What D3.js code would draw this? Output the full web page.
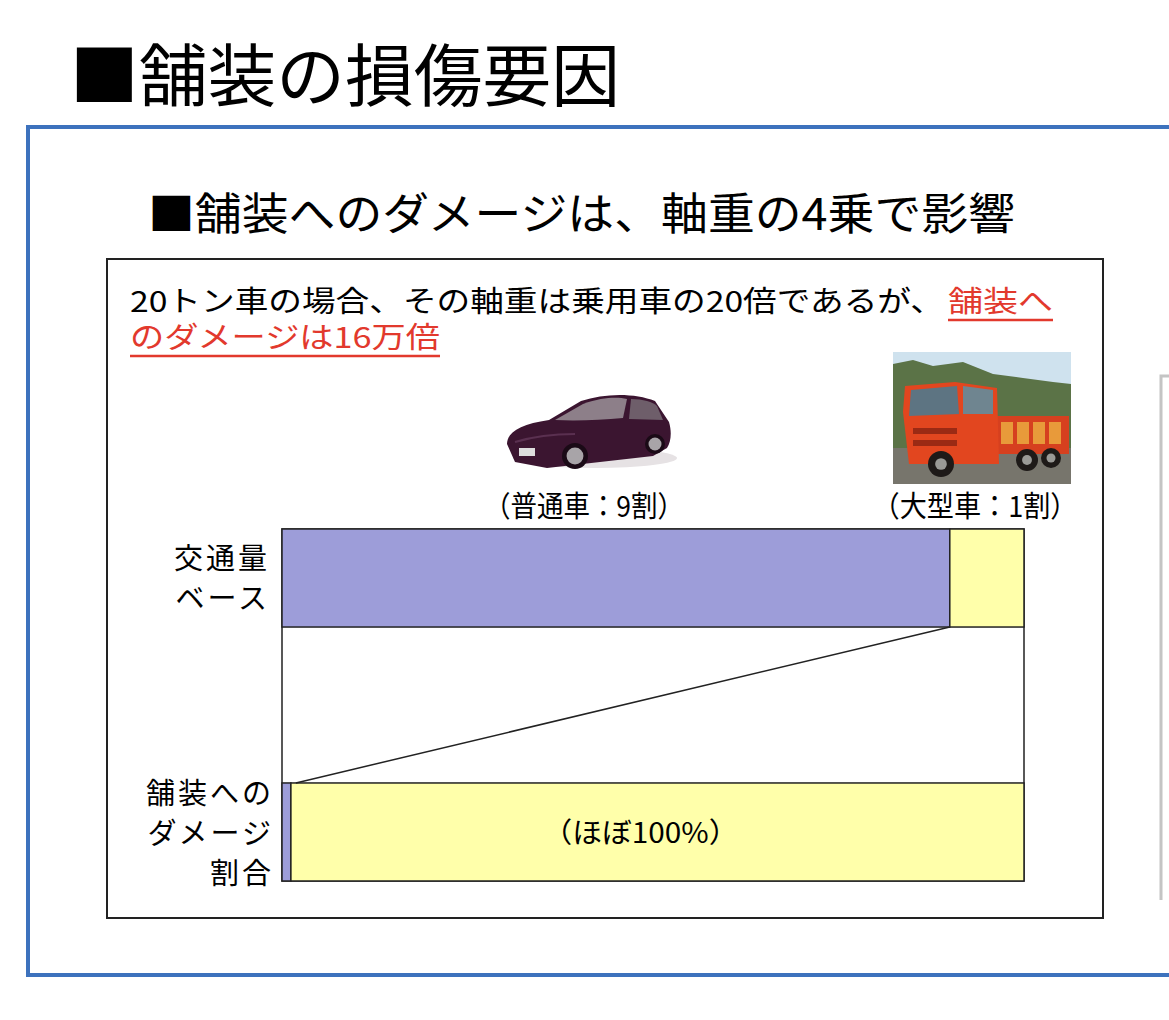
<!DOCTYPE html>
<html>
<head>
<meta charset="utf-8">
<script src="https://cdn.jsdelivr.net/npm/d3@7"></script>
<style>
  html, body { margin: 0; padding: 0; background: #fff; }
  svg { display: block; font-family: "Noto Sans CJK JP", "Noto Sans", sans-serif; }
</style>
</head>
<body>
<svg id="chart" width="1169" height="1020"></svg>
<script>
// data
const rows = ['traffic', 'damage']
const rowLabels = [['交通量', 'ベース'], ['舗装への', 'ダメージ', '割合']]
const categories = ['普通車', '大型車']
const trafficShare = [90, 10]
const damageShare = [1.2, 98.8]
const vehicleLabels = ['（普通車：9割）', '（大型車：1割）']
const damageNote = '（ほぼ100%）'
const title = '■舗装の損傷要因'
const subtitle = '■舗装へのダメージは、軸重の4乗で影響'
const leadBlack = '20トン車の場合、その軸重は乗用車の20倍であるが、'
const leadRed1 = '舗装へ'
const leadRed2 = 'のダメージは16万倍'

const colors = { 普通車: '#9d9dd9', 大型車: '#ffffaa' }

const svg = d3.select('#chart')

// outer blue frame (runs off the right edge)
svg.append('path')
  .attr('d', 'M1175,127 L28,127 L28,975 L1175,975')
  .attr('fill', 'none')
  .attr('stroke', '#3d72bd')
  .attr('stroke-width', 4)

// partial grey panel on the right
svg.append('path')
  .attr('d', 'M1161,900 L1161,376 L1175,376')
  .attr('fill', 'none')
  .attr('stroke', '#c4c4c4')
  .attr('stroke-width', 3)

// titles
svg.append('text')
  .attr('x', 70).attr('y', 101)
  .attr('font-size', 68)
  .attr('textLength', 550)
  .attr('lengthAdjust', 'spacingAndGlyphs')
  .text(title)

svg.append('text')
  .attr('x', 148).attr('y', 230)
  .attr('font-size', 44)
  .attr('textLength', 867)
  .attr('lengthAdjust', 'spacingAndGlyphs')
  .text(subtitle)

// inner black box
svg.append('rect')
  .attr('x', 107).attr('y', 259)
  .attr('width', 996).attr('height', 659)
  .attr('fill', '#fff')
  .attr('stroke', '#222')
  .attr('stroke-width', 2)

// lead text
svg.append('text')
  .attr('x', 130).attr('y', 312)
  .attr('font-size', 29)
  .attr('textLength', 814)
  .attr('lengthAdjust', 'spacingAndGlyphs')
  .text(leadBlack)

const red = '#e2392d'
const lead = [
  { text: leadRed1, x: 948, y: 312, w: 105 },
  { text: leadRed2, x: 130, y: 348, w: 310 },
]
lead.forEach((d) => {
  svg.append('text')
    .attr('x', d.x).attr('y', d.y)
    .attr('font-size', 29)
    .attr('fill', red)
    .attr('textLength', d.w)
    .attr('lengthAdjust', 'spacingAndGlyphs')
    .text(d.text)
  svg.append('line')
    .attr('x1', d.x).attr('x2', d.x + d.w)
    .attr('y1', d.y + 8).attr('y2', d.y + 8)
    .attr('stroke', red)
    .attr('stroke-width', 2.5)
})

// scales
const x = d3.scaleLinear().domain([0, 100]).range([282, 1024])
const y = d3.scaleBand().domain(rows).range([529, 881]).paddingInner(0.614)

const table = [trafficShare, damageShare].map((vals, i) => {
  const o = { row: rows[i] }
  categories.forEach((c, j) => (o[c] = vals[j]))
  return o
})
const series = d3.stack().keys(categories)(table)

// frame joining the two bars
svg.append('rect')
  .attr('x', x(0)).attr('y', y(rows[0]))
  .attr('width', x(100) - x(0))
  .attr('height', y(rows[1]) + y.bandwidth() - y(rows[0]))
  .attr('fill', '#fff')
  .attr('stroke', '#222')
  .attr('stroke-width', 1.5)

// bars
svg.append('g')
  .selectAll('g')
  .data(series)
  .join('g')
  .attr('fill', (d) => colors[d.key])
  .selectAll('rect')
  .data((d) => d)
  .join('rect')
  .attr('x', (d) => x(d[0]))
  .attr('y', (d) => y(d.data.row))
  .attr('width', (d) => x(d[1]) - x(d[0]))
  .attr('height', y.bandwidth())
  .attr('stroke', '#222')
  .attr('stroke-width', 1.5)

// connector from truck share to truck damage share
svg.append('line')
  .attr('x1', x(trafficShare[0])).attr('y1', y(rows[0]) + y.bandwidth())
  .attr('x2', x(damageShare[0]) + 5).attr('y2', y(rows[1]))
  .attr('stroke', '#222')
  .attr('stroke-width', 1.5)

// row labels
rowLabels.forEach((lines, i) => {
  const cy = y(rows[i]) + y.bandwidth() / 2
  const step = 40
  const t = svg.append('text')
    .attr('text-anchor', 'end')
    .attr('font-size', 29)
    .attr('letter-spacing', 3)
  lines.forEach((l, k) => {
    t.append('tspan')
      .attr('x', i === 0 ? 270 : 274)
      .attr('y', cy + 11 + (k - (lines.length - 1) / 2) * step + (i === 1 ? 1 : 0))
      .text(l)
  })
})

// note inside the damage bar
svg.append('text')
  .attr('x', x(damageShare[0] + damageShare[1] / 2) - 115)
  .attr('y', y(rows[1]) + y.bandwidth() / 2 + 11)
  .attr('font-size', 28)
  .attr('textLength', 196)
  .attr('lengthAdjust', 'spacingAndGlyphs')
  .text(damageNote)

// vehicle labels
const labelPos = [
  { x: 584, w: 200 },
  { x: 975, w: 205 },
]
vehicleLabels.forEach((l, i) => {
  svg.append('text')
    .attr('x', labelPos[i].x - labelPos[i].w / 2)
    .attr('y', 517)
    .attr('font-size', 29)
    .attr('textLength', labelPos[i].w)
    .attr('lengthAdjust', 'spacingAndGlyphs')
    .text(l)
})

// car illustration
const car = svg.append('g').attr('transform', 'translate(505,392)')
car.append('ellipse').attr('cx', 90).attr('cy', 66).attr('rx', 82).attr('ry', 10).attr('fill', '#e6e2e4')
car.append('path')
  .attr('d', 'M2,52 C2,40 16,32 44,28 L76,9 C100,1 130,1 150,9 L164,30 C167,40 166,50 162,56 L148,64 L42,76 L10,70 Z')
  .attr('fill', '#3b1530')
car.append('path')
  .attr('d', 'M50,28 L78,12 C98,5 112,5 122,7 L118,26 C96,28 72,29 50,28 Z')
  .attr('fill', '#8d7f89')
car.append('path')
  .attr('d', 'M126,7 C138,7 148,10 152,14 L158,28 L124,27 Z')
  .attr('fill', '#6e5e6a')
car.append('path')
  .attr('d', 'M10,50 C30,44 50,42 70,42')
  .attr('stroke', '#5a3050').attr('stroke-width', 2).attr('fill', 'none')
car.append('rect').attr('x', 14).attr('y', 56).attr('width', 16).attr('height', 8).attr('fill', '#ddd')
;[[70, 64, 13], [150, 52, 10]].forEach(([cx, cy, r]) => {
  car.append('circle').attr('cx', cx).attr('cy', cy).attr('r', r).attr('fill', '#1a0a16')
  car.append('circle').attr('cx', cx).attr('cy', cy).attr('r', r * 0.65).attr('fill', '#a8a4a8')
})

// truck illustration
const truck = svg.append('g').attr('transform', 'translate(893,352)')
truck.append('rect').attr('width', 178).attr('height', 132).attr('fill', '#cfe2ee')
truck.append('path')
  .attr('d', 'M0,12 L20,8 L40,14 L70,10 L100,22 L130,26 L160,30 L178,32 L178,100 L0,100 Z')
  .attr('fill', '#5b7347')
truck.append('rect').attr('y', 96).attr('width', 178).attr('height', 36).attr('fill', '#77756c')
truck.append('rect').attr('x', 100).attr('y', 64).attr('width', 76).attr('height', 38).attr('fill', '#d6401f')
;[108, 124, 140, 156].forEach((sx) => {
  truck.append('rect').attr('x', sx).attr('y', 70).attr('width', 12).attr('height', 22).attr('fill', '#e89a3a')
})
truck.append('path')
  .attr('d', 'M12,34 L62,30 L104,36 L106,112 L16,112 L10,60 Z')
  .attr('fill', '#e2461f')
truck.append('path')
  .attr('d', 'M18,38 L64,34 L66,62 L16,64 Z')
  .attr('fill', '#5d7482')
truck.append('path')
  .attr('d', 'M70,34 L100,38 L100,62 L70,62 Z')
  .attr('fill', '#6f8590')
truck.append('rect').attr('x', 20).attr('y', 76).attr('width', 44).attr('height', 6).attr('fill', '#9b2a14')
truck.append('rect').attr('x', 20).attr('y', 88).attr('width', 44).attr('height', 6).attr('fill', '#9b2a14')
;[[48, 112, 13], [134, 108, 11], [158, 106, 10]].forEach(([cx, cy, r]) => {
  truck.append('circle').attr('cx', cx).attr('cy', cy).attr('r', r).attr('fill', '#1e1a18')
  truck.append('circle').attr('cx', cx).attr('cy', cy).attr('r', r * 0.45).attr('fill', '#9a9a96')
})
</script>
</body>
</html>
